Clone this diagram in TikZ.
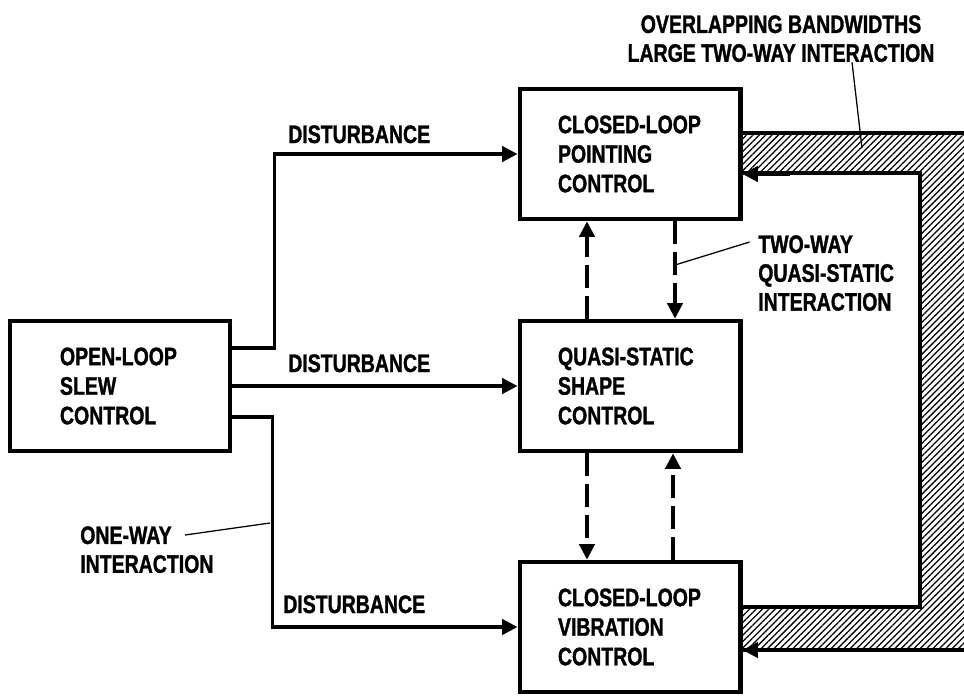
\documentclass[tikz,border=0pt]{standalone}
\usepackage{fontspec}
\setmainfont{Liberation Sans}[FakeStretch=0.77, BoldFeatures={FakeBold=1.2}]
\usepackage{tikz}
\usetikzlibrary{positioning, arrows.meta, patterns.meta, calc}

\begin{document}
\begin{tikzpicture}[
    x=0.025cm, y=-0.025cm,
    block/.style={draw, line width=3.5pt, minimum width=5.5cm, minimum height=3.25cm, text width=3.6cm, align=left, inner sep=0pt, font=\fontsize{18}{21}\selectfont\bfseries},
    note/.style={inner sep=0pt, align=left, font=\fontsize{18}{20.5}\selectfont\bfseries},
    flow/.style={line width=2.2pt, -{Triangle[length=11pt, width=11pt]}},
    dflow/.style={flow, dash pattern=on 16pt off 6pt},
    leader/.style={line width=0.9pt},
    bandedge/.style={line width=2.5pt}
]
\useasboundingbox (0,0) rectangle (964,697);

% hatched band on the right
\begin{scope}
\clip (0,0) rectangle (964,697);
\fill[pattern={Lines[angle=45, distance=3.2pt, line width=0.9pt]}] (740,133) -- (990,133) -- (990,650) -- (740,650) -- (740,607) -- (920,607) -- (920,173) -- (740,173) -- cycle;
\draw[bandedge] (740,133) -- (990,133);
\draw[bandedge] (740,173) -- (920,173) -- (920,607) -- (740,607);
\draw[bandedge] (740,650) -- (990,650);
\end{scope}

\node[block] (point) at (630,154) {CLOSED-LOOP\\POINTING\\CONTROL};
\node[block] (shape) at (630,386) {QUASI-STATIC\\SHAPE\\CONTROL};
\node[block] (vib) at (630,627) {CLOSED-LOOP\\VIBRATION\\CONTROL};
\node[block, text width=3cm] (slew) at (120,386) {OPEN-LOOP\\SLEW\\CONTROL};

% disturbances
\draw[flow] (slew.east |- 0,348) -- ++(42,0) |- (point.west);
\draw[flow] (slew.east) -- (shape.west);
\draw[flow] (slew.east |- 0,417) -- ++(40,0) |- (vib.west);
\node[note, anchor=base west] (dist1) at (288,143) {DISTURBANCE};
\node[note, anchor=base west] (dist2) at (288,372) {DISTURBANCE};
\node[note, anchor=base west] (dist3) at (283,613) {DISTURBANCE};

% quasi-static coupling
\draw[dflow] (shape.north -| 587,0) -- (point.south -| 587,0);
\draw[dflow] (point.south -| 675,0) -- (shape.north -| 675,0);
\draw[dflow] (shape.south -| 587,0) -- (vib.north -| 587,0);
\draw[dflow] (vib.north -| 673,0) -- (shape.south -| 673,0);

% band arrows
\draw[flow] (790,174) -- (point.east |- 0,174);
\draw[flow] (790,650) -- (vib.east |- 0,650);

% notes
\node[note, align=center, anchor=north] (bandnote) at (781,15) {OVERLAPPING BANDWIDTHS\\LARGE TWO-WAY INTERACTION};
\coordinate (bandfoot) at (862,148);
\draw[leader] (bandnote.south -| 852,0) -- (bandfoot);

\node[note, anchor=north west] (qsnote) at (758,235) {TWO-WAY\\QUASI-STATIC\\INTERACTION};
\coordinate (qsfoot) at (675,265);
\draw[leader] (qsfoot) -- ([xshift=-6pt, yshift=-5pt]qsnote.north west);

\node[note, anchor=north west] (ownote) at (80,526) {ONE-WAY\\INTERACTION};
\coordinate (owfoot) at (270,523);
\coordinate (owtip) at (185,535);
\draw[leader] (owfoot) -- (owtip);
\end{tikzpicture}
\end{document}
